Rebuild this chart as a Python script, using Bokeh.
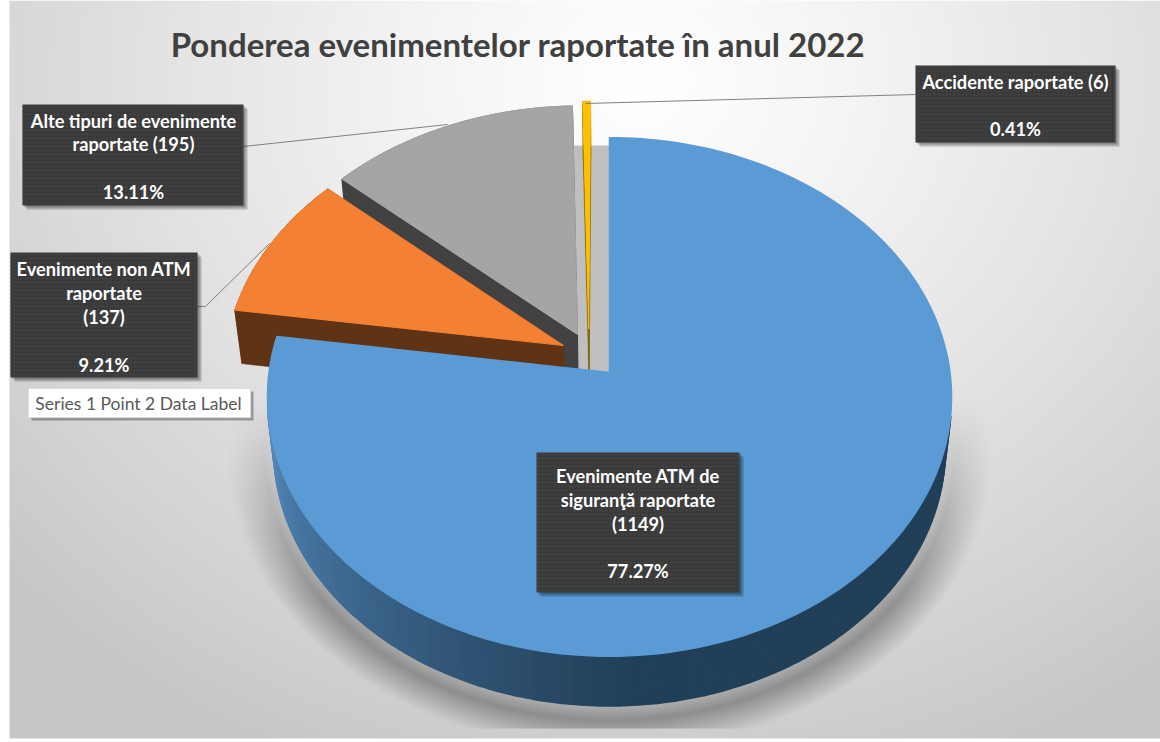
import numpy as np
from bokeh.plotting import figure
from bokeh.embed import file_html
from bokeh.resources import INLINE
from bokeh.core.properties import value

# ---- data ----
categories = ["Evenimente ATM de siguranţă raportate", "Evenimente non ATM raportate",
              "Alte tipuri de evenimente raportate", "Accidente raportate"]
counts = [1149, 137, 195, 6]
percent_labels = ["77.27%", "9.21%", "13.11%", "0.41%"]
title_text = "Ponderea evenimentelor raportate în anul 2022"
stray_label = "Series 1 Point 2 Data Label"

# ---- styling / projection ----
W, H = 1160, 742
top_colors = ["#5b9bd5", "#f38033", "#a5a5a5", "#ffc000"]
wall_colors = ["#223f58", "#5f3314", "#424242", "#7f6000"]
explode = [(0.0, 0.0), (-0.1364, 0.106), (-0.0953, 0.15), (-0.062, 0.1716)]
CX, CY, A, B, K = 609.0, 372.0, 340.5, 257.0, 0.0944
CX2, CY2, A2, B2 = 609.0, 424.7, 334.0, 254.0


def py(y):
    return H - np.asarray(y, dtype=float)


def project(u, v, bottom=False):
    d = 1 + K * v
    if bottom:
        return CX2 + A2 * u / d, CY2 - B2 * v / d
    return CX + A * u / d, CY - B * v / d


fractions = np.array(counts, dtype=float) / sum(counts)
edges = np.concatenate([[0.0], np.cumsum(fractions)]) * 2 * np.pi

p = figure(width=W, height=H, x_range=(0, W), y_range=(0, H), output_backend="svg",
           toolbar_location=None, min_border=0, outline_line_color=None, background_fill_color="white")
p.axis.visible = False
p.grid.visible = False

# ---- background gradient with the pie's soft shadow ----
BG_L, BG_R, BG_T, BG_B = 9, 1160, 0, 738
xx, yy = np.meshgrid(np.arange(BG_L, BG_R, 2) + 1.0, np.arange(BG_T, BG_B, 2) + 1.0)
dist = np.sqrt((xx - 640) ** 2 + ((yy - 80) * 1.15) ** 2)
shade = 255 - 52 * np.minimum(dist / 800, 1.06) ** 1.2
r = np.sqrt(((xx - 610) / 345) ** 2 + ((yy - 452) / 268) ** 2)
sh = np.clip(1 - np.abs(r - 1) * 268 / 30, 0, 1) * np.clip((yy - 400) / 200, 0, 1)
sh[yy > 727] = 0
shade = shade * (1 - 0.32 * sh)
img = np.zeros(xx.shape, dtype=np.uint32)
view = img.view(np.uint8).reshape(xx.shape + (4,))
view[..., 0] = view[..., 1] = view[..., 2] = shade.astype(np.uint8)
view[..., 3] = 255
p.image_rgba(image=[img[::-1]], x=BG_L, y=H - BG_B, dw=BG_R - BG_L, dh=BG_B - BG_T)

# light back face behind the gap
p.patch([562, 609, 609, 562], py([145, 145, 372, 368]), fill_color="#bfbfbf", line_color=None)


def wall_colour_blue(theta):
    # theta measured clockwise from twelve o'clock; left/front of the pie is lighter
    t = np.clip((theta - np.radians(175)) / np.radians(85), 0, 1)
    c0, c1 = np.array([0x22, 0x3f, 0x58]), np.array([0x52, 0x86, 0xb8])
    return "#%02x%02x%02x" % tuple((c0 + (c1 - c0) * t ** 1.1).astype(int))


# ---- slices, back to front ----
for i in [3, 2, 1, 0]:
    du, dv = explode[i]
    th = np.linspace(edges[i], edges[i + 1], max(3, int(240 * fractions[i]) + 3))
    u = np.concatenate([[du], du + np.sin(th)])
    v = np.concatenate([[dv], dv + np.cos(th)])
    xt, yt = project(u, v)
    xb, yb = project(u, v, bottom=True)
    qx, qy, qc = [], [], []
    n = len(u)
    for j in range(n):
        k = (j + 1) % n
        if i == 0:
            if not (0 < j < n - 1):
                continue
            mid = (th[j - 1] + th[j]) / 2
            if not np.radians(100) < mid < np.radians(262):
                continue
            qc.append(wall_colour_blue(mid))
        else:
            qc.append(wall_colors[i])
        qx.append([xt[j], xt[k], xb[k], xb[j]])
        qy.append(list(py([yt[j], yt[k], yb[k], yb[j]])))
    p.patches(qx, qy, fill_color=qc, line_color=qc, line_width=2.2 if i == 0 else 0.6)
    p.patch(xt, py(yt), fill_color=top_colors[i], line_color=top_colors[i], line_width=1.5 if i == 0 else 1)

# ---- leader lines ----
for lx, ly in [([915, 585], [94, 103]), ([243, 447], [146, 124]), ([197, 205, 269], [306, 306, 243])]:
    p.line(lx, py(ly), line_color="#808080", line_width=1)

# ---- dark label boxes ----
boxes = [(536, 739, 452, 592), (10, 197, 252, 377), (22, 243, 104, 205), (915, 1115, 65, 142)]
for l, rr, t, b in boxes:
    p.quad(left=l + 4, right=rr + 4, top=py(t + 4), bottom=py(b + 4), fill_color="black", fill_alpha=0.22, line_color=None)
    p.quad(left=l + 2, right=rr + 2, top=py(t + 2), bottom=py(b + 2), fill_color="black", fill_alpha=0.22, line_color=None)
    p.quad(left=l, right=rr, top=py(t), bottom=py(b), fill_color="#3a3a3a", line_color=None,
           hatch_pattern="dot", hatch_color="#464646", hatch_scale=4, hatch_weight=1)

label_lines = [
    (637.5, [475, 499, 523, 570], ["Evenimente ATM de", "siguranţă raportate", "(1149)", percent_labels[0]]),
    (103.5, [268, 292, 316, 364], ["Evenimente non ATM", "raportate", "(137)", percent_labels[1]]),
    (133, [120, 143, 191], ["Alte tipuri de evenimente", "raportate (195)", percent_labels[2]]),
    (1015, [81, 128], ["Accidente raportate (6)", percent_labels[3]]),
]
for cx, ys, texts in label_lines:
    p.text([cx] * len(ys), py(ys), text=texts, text_color="white", text_font=value("Lato"),
           text_font_style="bold", text_font_size="18.2px", text_align="center", text_baseline="middle")

# ---- stray white data label ----
p.quad(left=31, right=253, top=py(391), bottom=py(420), fill_color="black", fill_alpha=0.3, line_color=None)
p.quad(left=28, right=250, top=py(388), bottom=py(417), fill_color="white", line_color="#dddddd", line_width=1)
p.text([138], py([403]), text=[stray_label], text_color="#595959", text_font=value("Lato"),
       text_font_size="17.5px", text_align="center", text_baseline="middle")

# ---- title ----
p.text([517.5], py([43]), text=[title_text], text_color="#404040", text_font=value("Lato"),
       text_font_style="bold", text_font_size="33px", text_align="center", text_baseline="middle")

open("out.html", "w").write(file_html(p, INLINE))
